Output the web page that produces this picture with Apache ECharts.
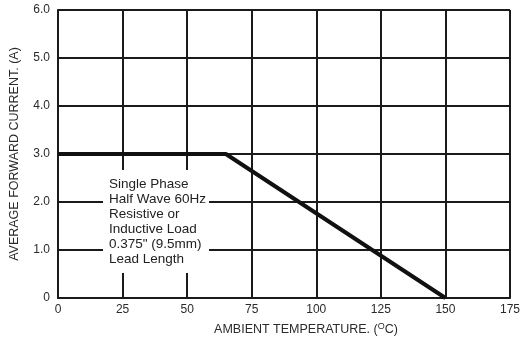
<!DOCTYPE html>
<html>
<head>
<meta charset="utf-8">
<style>
  html, body { margin: 0; padding: 0; background: #fff; }
  #chart { width: 523px; height: 343px; }
</style>
<script src="https://cdn.jsdelivr.net/npm/echarts@6/dist/echarts.min.js"></script>
</head>
<body>
<div id="chart"></div>
<script>
// derating curve
const temperature = [0, 65, 150];
const current = [3.0, 3.0, 0];
const xTicks = [0, 25, 50, 75, 100, 125, 150, 175];
const yTicks = ['0', '1.0', '2.0', '3.0', '4.0', '5.0', '6.0'];
const noteLines = [
  'Single Phase',
  'Half Wave 60Hz',
  'Resistive or',
  'Inductive Load',
  '0.375" (9.5mm)',
  'Lead Length'
];

const chart = echarts.init(document.getElementById('chart'));
const font = 'Liberation Sans, Arial, sans-serif';
const gridLine = { color: '#1a1a1a', width: 2 };

chart.setOption({
  animation: false,
  grid: { left: 56, right: 11, top: 10, bottom: 45 },
  xAxis: {
    type: 'value',
    min: 0,
    max: 175,
    interval: 25,
    name: 'AMBIENT TEMPERATURE. ({sup|O}C)',
    nameLocation: 'middle',
    nameGap: 24,
    nameTextStyle: {
      fontFamily: font,
      fontSize: 12.5,
      color: '#2a2a2a',
      padding: [0, 0, 0, 44],
      rich: { sup: { fontSize: 9, verticalAlign: 'top', padding: [0, 0, 6, 0], color: '#2a2a2a', fontFamily: font } }
    },
    axisLine: { show: true, lineStyle: gridLine },
    axisTick: { show: false },
    splitLine: { show: true, lineStyle: gridLine },
    axisLabel: {
      fontFamily: font, fontSize: 12, color: '#2a2a2a', margin: 6,
      formatter: v => xTicks.includes(v) ? String(v) : ''
    }
  },
  yAxis: {
    type: 'value',
    min: 0,
    max: 6,
    interval: 1,
    name: 'AVERAGE FORWARD CURRENT. (A)',
    nameLocation: 'middle',
    nameGap: 37,
    nameTextStyle: { fontFamily: font, fontSize: 12.5, color: '#2a2a2a' },
    axisLine: { show: true, lineStyle: gridLine },
    axisTick: { show: false },
    splitLine: { show: true, lineStyle: gridLine },
    axisLabel: {
      fontFamily: font, fontSize: 12, color: '#2a2a2a', margin: 8,
      formatter: v => yTicks[Math.round(v)]
    }
  },
  series: [{
    type: 'line',
    data: temperature.map((t, i) => [t, current[i]]),
    symbol: 'none',
    lineStyle: { color: '#111', width: 4 },
    z: 5
  }],
  graphic: [{
    type: 'text',
    left: 103,
    top: 170,
    z: 10,
    style: {
      text: noteLines.join('\n'),
      font: '13.5px ' + font,
      fill: '#222',
      lineHeight: 15,
      backgroundColor: '#fff',
      padding: [7, 3, 6, 6]
    }
  }]
});
</script>
</body>
</html>
